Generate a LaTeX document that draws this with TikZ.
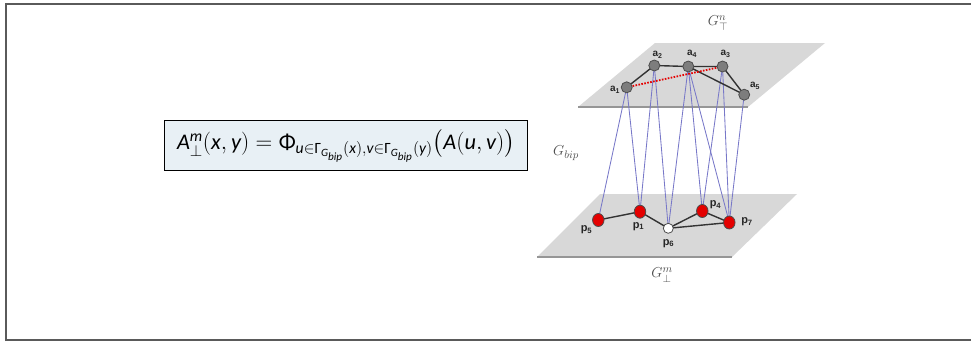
\documentclass[tikz,border=0pt]{standalone}
\usepackage{fontspec}
\usepackage{amsmath}
\usepackage{graphicx}
\newfontfamily\formfont{Carlito}
\newfontfamily\labfont{Liberation Sans}
\usetikzlibrary{backgrounds,shapes.geometric}
\definecolor{planegray}{RGB}{216,216,216}
\definecolor{edgegray}{RGB}{150,150,150}
\definecolor{bipblue}{RGB}{120,120,200}
\definecolor{nodered}{RGB}{228,0,0}
\definecolor{topnode}{RGB}{125,125,125}
\definecolor{boxfill}{RGB}{232,240,245}
\definecolor{labgray}{RGB}{75,75,75}
\definecolor{framegray}{RGB}{90,90,90}
\pgfdeclarelayer{planes}
\pgfdeclarelayer{links}
\pgfsetlayers{planes,links,main}
\tikzset{
  topv/.style={circle,draw=black!70,fill=topnode,line width=0.8pt,minimum size=11pt,inner sep=0pt},
  botv/.style={ellipse,draw=black!70,fill=nodered,line width=0.8pt,minimum width=11.5pt,minimum height=13pt,inner sep=0pt},
  whitev/.style={circle,draw=black!70,fill=white,line width=0.8pt,minimum size=10pt,inner sep=0pt},
  alab/.style={font=\labfont\bfseries\fontsize{10}{11}\selectfont,text=black!85,inner sep=0pt},
  plab/.style={font=\labfont\bfseries\fontsize{11}{12}\selectfont,text=black!85,inner sep=0pt},
  glab/.style={text=labgray,font=\fontsize{15}{17}\selectfont,inner sep=0pt},
  bip/.style={draw=bipblue,line width=0.85pt},
  gedge/.style={draw=black!80,line width=1.4pt},
  plane/.style={fill=planegray},
  planeedge/.style={draw=edgegray,line width=1.8pt},
  formbox/.style={draw=black,fill=boxfill,line width=0.8pt,minimum width=363pt,minimum height=50pt,inner sep=0pt}
}
\begin{document}
\begin{tikzpicture}[x=1pt,y=-1pt]
\useasboundingbox (0,0) rectangle (971,341);
% frame
\draw[framegray,line width=1.2pt] (6,341) -- (6,4) -- (971,4);
\draw[framegray,line width=1.2pt] (6,340) -- (971,340);
% formula
\node[formbox] (box) at (345.5,145) {};
\node (formula) at (346,146) {\resizebox{338pt}{!}{\formfont\fontsize{20}{24}\selectfont
$\textit{A}^{\textit{m}}_{\perp}(\textit{x},\textit{y}) = \textup{Φ}_{\textit{u}\in\textup{Γ}_{\textit{G}_{\textit{bip}}}(\textit{x}),\textit{v}\in\textup{Γ}_{\textit{G}_{\textit{bip}}}(\textit{y})}\bigl(\textit{A}(\textit{u},\textit{v})\bigr)$}};
% planes
\begin{pgfonlayer}{planes}
\fill[plane] (655,43) -- (825,43) -- (748,107) -- (578,107) -- cycle;
\draw[planeedge] (578,107) -- (748,107);
\fill[plane] (600,194) -- (797,194) -- (732,257) -- (537,257) -- cycle;
\draw[planeedge] (537,257) -- (732,257);
\end{pgfonlayer}
% top vertices
\node[topv] (a1) at (626.7,87.3) {};
\node[topv] (a2) at (654.3,65.5) {};
\node[topv] (a4) at (688.3,66.5) {};
\node[topv] (a3) at (722.5,66.5) {};
\node[topv] (a5) at (744.2,94.7) {};
% bottom vertices
\node[botv] (p5) at (598.3,220) {};
\node[botv] (p1) at (640,211.7) {};
\node[whitev] (p6) at (668.3,228.3) {};
\node[botv] (p4) at (702.3,211) {};
\node[botv] (p7) at (729.3,222.5) {};
% vertex labels
\node[alab] (la1) at (615,90) {a\textsubscript{1}};
\node[alab] (la2) at (657.5,55) {a\textsubscript{2}};
\node[alab] (la4) at (692,54) {a\textsubscript{4}};
\node[alab] (la3) at (725.5,54) {a\textsubscript{3}};
\node[alab] (la5) at (755,86) {a\textsubscript{5}};
\node[plab] (lp5) at (586.5,230) {p\textsubscript{5}};
\node[plab] (lp1) at (638.5,226.5) {p\textsubscript{1}};
\node[plab] (lp6) at (668.5,243.5) {p\textsubscript{6}};
\node[plab] (lp4) at (715.5,205) {p\textsubscript{4}};
\node[plab] (lp7) at (747,222) {p\textsubscript{7}};
% graph labels
\node[glab] (gtop) at (718,23) {$G^{n}_{\top}$};
\node[glab] (gbot) at (662,275) {$G^{m}_{\perp}$};
\node[glab] (gbip) at (566,153) {$G_{bip}$};
% bipartite links
\begin{pgfonlayer}{links}
\draw[bip] (a1.center) -- (p5.center);
\draw[bip] (a1.center) -- (p1.center);
\draw[bip] (a2.center) -- (p1.center);
\draw[bip] (a2.center) -- (p6.center);
\draw[bip] (a4.center) -- (p6.center);
\draw[bip] (a4.center) -- (p4.center);
\draw[bip] (a4.center) -- (p7.center);
\draw[bip] (a3.center) -- (p4.center);
\draw[bip] (a3.center) -- (p7.center);
\draw[bip] (a5.center) -- (p7.center);
% graph edges
\draw[gedge] (a1.center) -- (a2.center) -- (a4.center) -- (a3.center) -- (a5.center);
\draw[gedge] (a4.center) -- (a5.center);
\draw[red!90!black,line width=1.8pt,dash pattern=on 1.6pt off 1.4pt] (a1.center) -- (a3.center);
\draw[gedge] (p5.center) -- (p1.center) -- (p6.center) -- (p4.center) -- (p7.center) -- (p6.center);
\end{pgfonlayer}
\end{tikzpicture}
\end{document}
